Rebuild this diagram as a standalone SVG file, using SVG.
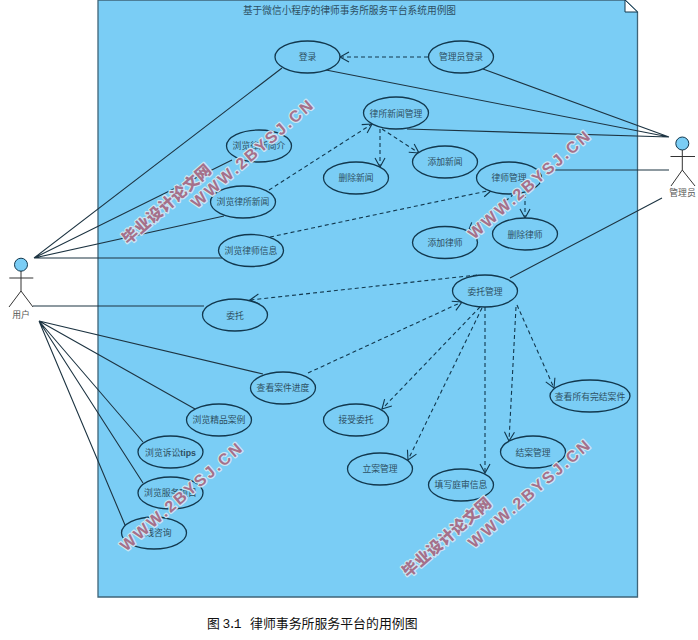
<svg xmlns="http://www.w3.org/2000/svg" width="698" height="640" viewBox="0 0 698 640">
<style>
.u{fill:#7acdf5;stroke:#12384e;stroke-width:1.3}
.t{font-family:"Noto Sans CJK SC","Liberation Serif",serif;font-size:8.800px;fill:#2d4f62;text-anchor:middle}
.l{fill:none;stroke:#1d3442;stroke-width:1.100}
.d{fill:none;stroke:#12384e;stroke-width:1.100;stroke-dasharray:4 3;marker-end:url(#a)}
.a{fill:none;stroke:#333;stroke-width:1}
.w{font-family:"Liberation Sans",sans-serif;font-weight:bold;font-size:16px;fill:#a5708a;stroke:#cde5f3;stroke-width:2.500;paint-order:stroke;stroke-linejoin:round}
.c{font-family:"Noto Sans CJK SC",sans-serif;font-weight:900;font-size:15.500px;fill:#a5708a;stroke:#cde5f3;stroke-width:2.500;paint-order:stroke;stroke-linejoin:round}
</style>
<defs><marker id="a" markerWidth="12" markerHeight="14" refX="10" refY="6" orient="auto" markerUnits="userSpaceOnUse"><path d="M1 1L10 6L1 11" fill="none" stroke="#12384e" stroke-width="1.100"/></marker></defs>
<rect width="698" height="640" fill="#fff"/>
<g id="frame"><path d="M98 0H625L637.500 12V597H98Z" fill="#7acdf5" stroke="#3f6478" stroke-width="1.300"/><path d="M625 0L637.500 12H625Z" fill="#fff" stroke="#12384e"/>
<text x="349.500" y="14" style="font-family:'Noto Sans CJK SC',serif;font-size:9.700px;fill:#2d4f62;text-anchor:middle">基于微信小程序的律师事务所服务平台系统用例图</text></g>
<g id="connectors">
<path class="l" d="M34 258L282 68M34 258L232 160M34 258L224 216M34 258L222 258M33 306L204 306M39 321L263 374M39 321L195 409M39 321L143 442M39 321L143 483M39 321L125 525"/>
<path class="l" d="M669 137L326 70M669 137L483 69M669 137L407 129M553 170H669M510 278L662 198"/>
<path class="d" d="M428 57H340"/><path class="d" d="M269 190L372 124"/><path class="d" d="M380 129V167"/><path class="d" d="M382 129L419 153"/><path class="d" d="M270 237L492 190"/><path class="d" d="M525 194V218"/><path class="d" d="M514 194L468 232"/><path class="d" d="M477 275L250 300"/><path class="d" d="M308 373L462 302"/><path class="d" d="M480 307L382 409"/><path class="d" d="M482 308L408 460"/><path class="d" d="M485 307V473"/><path class="d" d="M516 307L509 441"/><path class="d" d="M517 305L554 388"/>
</g>
<g id="n1"><ellipse class="u" cx="307.500" cy="57" rx="32.500" ry="16"/><text class="t" x="307.500" y="60">登录</text></g>
<g id="n2"><ellipse class="u" cx="461" cy="57" rx="32.500" ry="16"/><text class="t" x="461" y="60">管理员登录</text></g>
<g id="n3"><ellipse class="u" cx="396" cy="113" rx="32.500" ry="16"/><text class="t" x="396" y="117">律所新闻管理</text></g>
<g id="n4"><ellipse class="u" cx="259" cy="146" rx="32.500" ry="16"/><text class="t" x="259" y="149">浏览律所简介</text></g>
<g id="n5"><ellipse class="u" cx="356" cy="178" rx="32.500" ry="16"/><text class="t" x="356" y="181">删除新闻</text></g>
<g id="n6"><ellipse class="u" cx="445" cy="162" rx="32.500" ry="16"/><text class="t" x="445" y="165">添加新闻</text></g>
<g id="n7"><ellipse class="u" cx="509" cy="178" rx="32.500" ry="16"/><text class="t" x="509" y="181">律师管理</text></g>
<g id="n8"><ellipse class="u" cx="243" cy="202" rx="32.500" ry="16"/><text class="t" x="243" y="205">浏览律所新闻</text></g>
<g id="n9"><ellipse class="u" cx="251" cy="250.500" rx="32.500" ry="16"/><text class="t" x="251" y="254">浏览律师信息</text></g>
<g id="n10"><ellipse class="u" cx="445" cy="242.500" rx="32.500" ry="16"/><text class="t" x="445" y="246">添加律师</text></g>
<g id="n11"><ellipse class="u" cx="525" cy="234" rx="32.500" ry="16"/><text class="t" x="525" y="238">删除律师</text></g>
<g id="n12"><ellipse class="u" cx="485" cy="291" rx="32.500" ry="16"/><text class="t" x="485" y="295">委托管理</text></g>
<g id="n13"><ellipse class="u" cx="235" cy="315" rx="32.500" ry="16"/><text class="t" x="235" y="319">委托</text></g>
<g id="n14"><ellipse class="u" cx="283" cy="388" rx="32.500" ry="16"/><text class="t" x="283" y="391">查看案件进度</text></g>
<g id="n15"><ellipse class="u" cx="219" cy="420" rx="32.500" ry="16"/><text class="t" x="219" y="423">浏览精品案例</text></g>
<g id="n16"><ellipse class="u" cx="170.500" cy="452" rx="32.500" ry="16"/><text class="t" x="170.500" y="456">浏览诉讼<tspan style="font-family:'Liberation Sans',sans-serif;font-weight:bold">tips</tspan></text></g>
<g id="n17"><ellipse class="u" cx="170.500" cy="493" rx="32.500" ry="16"/><text class="t" x="170.500" y="496">浏览服务项目</text></g>
<g id="n18"><ellipse class="u" cx="154" cy="533" rx="32.500" ry="16"/><text class="t" x="154" y="536">在线咨询</text></g>
<g id="n19"><ellipse class="u" cx="356" cy="420" rx="32.500" ry="16"/><text class="t" x="356" y="423">接受委托</text></g>
<g id="n20"><ellipse class="u" cx="380" cy="469" rx="32.500" ry="16"/><text class="t" x="380" y="472">立案管理</text></g>
<g id="n21"><ellipse class="u" cx="461" cy="485" rx="32.500" ry="16"/><text class="t" x="461" y="488">填写庭审信息</text></g>
<g id="n22"><ellipse class="u" cx="533" cy="452" rx="32.500" ry="16"/><text class="t" x="533" y="456">结案管理</text></g>
<g id="n23"><ellipse class="u" cx="590" cy="396" rx="40" ry="16"/><text class="t" x="590" y="400">查看所有完结案件</text></g>
<g id="user"><circle cx="21" cy="264.700" r="6.500" fill="#7acdf5" stroke="#12384e"/><path class="a" d="M21 271V291M9.300 278H33.300M9 307L21 291L33 307"/><text class="t" x="21" y="318" style="fill:#555">用户</text></g>
<g id="admin"><circle cx="682.300" cy="143.500" r="6.500" fill="#7acdf5" stroke="#12384e"/><path class="a" d="M682.300 150V170M670.500 156.500H695M671 186L682.300 170L695 186"/><text class="t" x="682.500" y="196" style="fill:#555">管理员</text></g>
<g id="watermarks">
<text class="w" transform="translate(197 209) rotate(-41)" textLength="155" lengthAdjust="spacing">WWW.2BYSJ.CN</text>
<text class="c" transform="translate(128 245) rotate(-41)" textLength="112" lengthAdjust="spacing">毕业设计论文网</text>
<text class="w" transform="translate(474 240) rotate(-41)" textLength="155" lengthAdjust="spacing">WWW.2BYSJ.CN</text>
<text class="w" transform="translate(126 552) rotate(-41)" textLength="155" lengthAdjust="spacing">WWW.2BYSJ.CN</text>
<text class="c" transform="translate(408 578) rotate(-41)" textLength="112" lengthAdjust="spacing">毕业设计论文网</text>
<text class="w" transform="translate(474 549) rotate(-41)" textLength="155" lengthAdjust="spacing">WWW.2BYSJ.CN</text>
</g>
<text y="628" style="font-family:'Noto Sans CJK SC',serif;font-size:12.900px;fill:#111">
<tspan x="207">图</tspan><tspan x="222.500" style="font-family:'Liberation Mono',monospace" textLength="19">3.1</tspan><tspan x="250">律师事务所服务平台的用例图</tspan></text>
</svg>
